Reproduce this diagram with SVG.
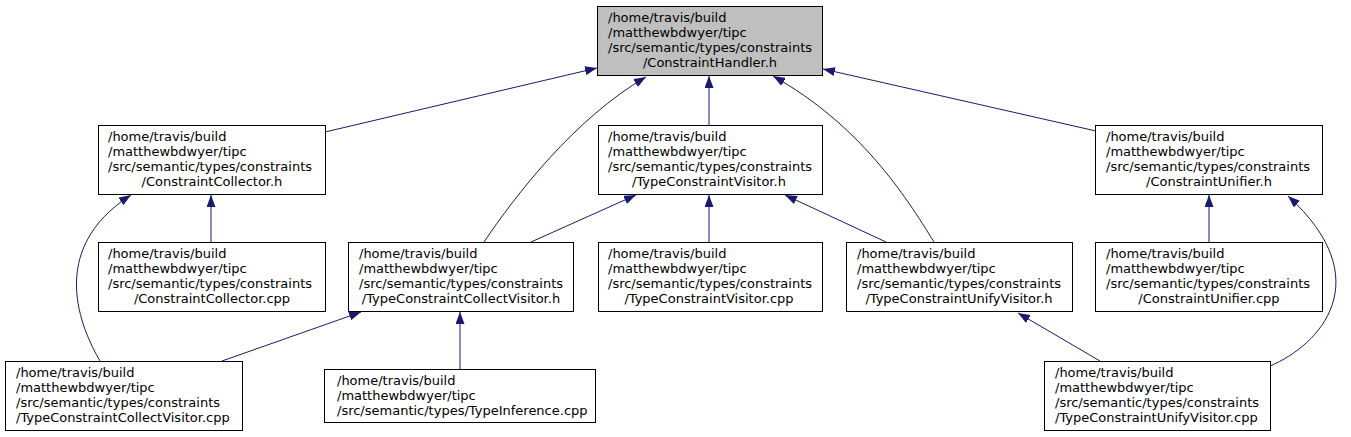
<svg xmlns="http://www.w3.org/2000/svg" width="1351" height="437" viewBox="0 0 1351 437">
<defs>
<style>
.box{fill:#ffffff;stroke:#000000;stroke-width:1}
.hl{fill:#bfbfbf}
text{font-family:"DejaVu Sans",sans-serif;font-size:13px;fill:#000000}
.e{fill:none;stroke:#191970;stroke-width:1;marker-end:url(#ah)}
</style>
<marker id="ah" viewBox="0 0 12 9" refX="12" refY="4.5" markerWidth="12" markerHeight="9" markerUnits="userSpaceOnUse" orient="auto">
<polygon points="0,0 12,4.5 0,9" fill="#191970"/>
</marker>
</defs>
<rect width="1351" height="437" fill="#ffffff"/>
<g id="edges">
<path class="e" d="M325,132 L597,68"/>
<path class="e" d="M484,242 C515,196 575,118 646,77"/>
<path class="e" d="M709,125 L709,76"/>
<path class="e" d="M934,242 C905,195 860,125 773,76"/>
<path class="e" d="M1096,131 L823,69"/>
<path class="e" d="M211,242 L211,195"/>
<path class="e" d="M100,361 C82,330 45,250 131,195"/>
<path class="e" d="M531,242 L636,195"/>
<path class="e" d="M709,242 L709,195"/>
<path class="e" d="M886,242 L785,195"/>
<path class="e" d="M1209,242 L1209,195"/>
<path class="e" d="M1270,366 C1320,345 1380,280 1288,196"/>
<path class="e" d="M222,361 L361,312"/>
<path class="e" d="M460,369 L460,312"/>
<path class="e" d="M1100,361 L1018,313"/>
</g>
<g id="n_handler_h">
<rect class="box hl" x="597.5" y="6.5" width="225" height="69"/>
<text x="608" y="22">/home/travis/build</text>
<text x="608" y="37">/matthewbdwyer/tipc</text>
<text x="608" y="52">/src/semantic/types/constraints</text>
<text x="710" y="67" text-anchor="middle">/ConstraintHandler.h</text>
</g>
<g id="n_collector_h">
<rect class="box" x="98.5" y="125.5" width="227" height="69"/>
<text x="108" y="141">/home/travis/build</text>
<text x="108" y="156">/matthewbdwyer/tipc</text>
<text x="108" y="171">/src/semantic/types/constraints</text>
<text x="212" y="186" text-anchor="middle">/ConstraintCollector.h</text>
</g>
<g id="n_visitor_h">
<rect class="box" x="598.5" y="125.5" width="224" height="69"/>
<text x="608" y="141">/home/travis/build</text>
<text x="608" y="156">/matthewbdwyer/tipc</text>
<text x="608" y="171">/src/semantic/types/constraints</text>
<text x="709" y="186" text-anchor="middle">/TypeConstraintVisitor.h</text>
</g>
<g id="n_unifier_h">
<rect class="box" x="1095.5" y="125.5" width="227" height="69"/>
<text x="1106" y="141">/home/travis/build</text>
<text x="1106" y="156">/matthewbdwyer/tipc</text>
<text x="1106" y="171">/src/semantic/types/constraints</text>
<text x="1209" y="186" text-anchor="middle">/ConstraintUnifier.h</text>
</g>
<g id="n_collector_cpp">
<rect class="box" x="98.5" y="242.5" width="227" height="69"/>
<text x="108" y="258">/home/travis/build</text>
<text x="108" y="273">/matthewbdwyer/tipc</text>
<text x="108" y="288">/src/semantic/types/constraints</text>
<text x="212" y="303" text-anchor="middle">/ConstraintCollector.cpp</text>
</g>
<g id="n_collectvisitor_h">
<rect class="box" x="348.5" y="242.5" width="225" height="69"/>
<text x="359" y="258">/home/travis/build</text>
<text x="359" y="273">/matthewbdwyer/tipc</text>
<text x="359" y="288">/src/semantic/types/constraints</text>
<text x="461" y="303" text-anchor="middle">/TypeConstraintCollectVisitor.h</text>
</g>
<g id="n_visitor_cpp">
<rect class="box" x="598.5" y="242.5" width="224" height="69"/>
<text x="608" y="258">/home/travis/build</text>
<text x="608" y="273">/matthewbdwyer/tipc</text>
<text x="608" y="288">/src/semantic/types/constraints</text>
<text x="709" y="303" text-anchor="middle">/TypeConstraintVisitor.cpp</text>
</g>
<g id="n_unifyvisitor_h">
<rect class="box" x="846.5" y="242.5" width="226" height="69"/>
<text x="857" y="258">/home/travis/build</text>
<text x="857" y="273">/matthewbdwyer/tipc</text>
<text x="857" y="288">/src/semantic/types/constraints</text>
<text x="959" y="303" text-anchor="middle">/TypeConstraintUnifyVisitor.h</text>
</g>
<g id="n_unifier_cpp">
<rect class="box" x="1095.5" y="242.5" width="227" height="69"/>
<text x="1106" y="258">/home/travis/build</text>
<text x="1106" y="273">/matthewbdwyer/tipc</text>
<text x="1106" y="288">/src/semantic/types/constraints</text>
<text x="1209" y="303" text-anchor="middle">/ConstraintUnifier.cpp</text>
</g>
<g id="n_collectvisitor_cpp">
<rect class="box" x="5.5" y="361.5" width="237" height="69"/>
<text x="16" y="377">/home/travis/build</text>
<text x="16" y="392">/matthewbdwyer/tipc</text>
<text x="16" y="407">/src/semantic/types/constraints</text>
<text x="16" y="422">/TypeConstraintCollectVisitor.cpp</text>
</g>
<g id="n_typeinference_cpp">
<rect class="box" x="324.5" y="369.5" width="271" height="53"/>
<text x="337" y="385">/home/travis/build</text>
<text x="337" y="400">/matthewbdwyer/tipc</text>
<text x="337" y="415">/src/semantic/types/TypeInference.cpp</text>
</g>
<g id="n_unifyvisitor_cpp">
<rect class="box" x="1044.5" y="361.5" width="226" height="69"/>
<text x="1055" y="377">/home/travis/build</text>
<text x="1055" y="392">/matthewbdwyer/tipc</text>
<text x="1055" y="407">/src/semantic/types/constraints</text>
<text x="1055" y="422">/TypeConstraintUnifyVisitor.cpp</text>
</g>
</svg>
